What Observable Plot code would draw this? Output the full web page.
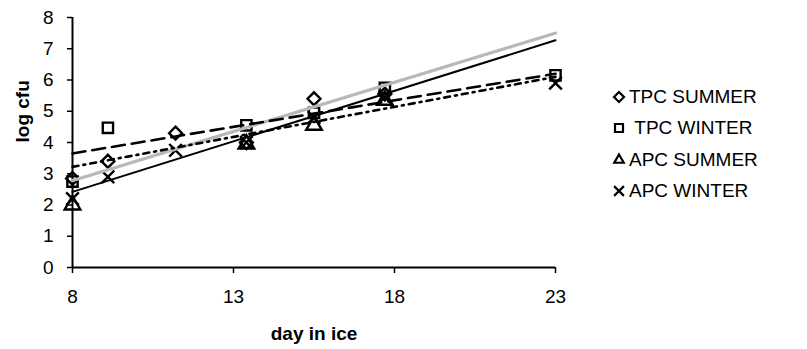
<!DOCTYPE html>
<html>
<head>
<meta charset="utf-8">
<script src="https://cdn.jsdelivr.net/npm/d3@7"></script>
<script src="https://cdn.jsdelivr.net/npm/@observablehq/plot@0.6"></script>
<style>
  html, body { margin: 0; padding: 0; background: #fff; }
  #wrap { position: relative; width: 807px; height: 349px; font-family: "Liberation Sans", Arial, sans-serif; }
  #legend { position: absolute; left: 613px; top: 81px; font-size: 19px; color: #000; }
  #legend .row { display: flex; align-items: center; height: 31.5px; white-space: nowrap; }
  #legend svg { margin-right: 4px; overflow: visible; }
</style>
</head>
<body>
<div id="wrap"><div id="legend"></div></div>
<script>
// ---- data ----
const days = [8, 9.1, 11.2, 13.4, 15.5, 17.7, 23];
const seriesNames = ["TPC SUMMER", "TPC WINTER", "APC SUMMER", "APC WINTER"];
const tpcSummer = [2.85, 3.4, 4.3, 4.0, 5.4, 5.55, null];
const tpcWinter = [2.75, 4.47, null, 4.55, 4.95, 5.75, 6.15];
const apcSummer = [2.0, null, null, 3.95, 4.55, 5.35, null];
const apcWinter = [2.2, 2.9, 3.75, 4.0, 4.8, 5.45, 5.9];

// trend lines (values at first and last day)
const trendNames = ["solid", "gray", "dashed", "dashdot"];
const trendStartDay = 8;
const trendEndDay = 23;
const trendStart = [2.42, 2.78, 3.65, 3.22];
const trendEnd = [7.27, 7.5, 6.2, 6.1];

const xTicks = [8, 13, 18, 23];
const yTicks = [0, 1, 2, 3, 4, 5, 6, 7, 8];

// ---- build tables ----
const seriesValues = [tpcSummer, tpcWinter, apcSummer, apcWinter];
const points = [];
seriesNames.forEach((name, i) => {
  seriesValues[i].forEach((v, j) => {
    if (v != null) points.push({series: name, day: days[j], value: v});
  });
});
const trendStyles = {
  solid:   {stroke: "#000", strokeWidth: 2},
  gray:    {stroke: "#b8b8b8", strokeWidth: 3.2, strokeDasharray: "2,1"},
  dashed:  {stroke: "#000", strokeWidth: 2.6, strokeDasharray: "13,7"},
  dashdot: {stroke: "#000", strokeWidth: 2.6, strokeDasharray: "6,5,2,5"}
};
const trendMarks = trendNames.map((n, i) =>
  Plot.line([{day: trendStartDay, value: trendStart[i]}, {day: trendEndDay, value: trendEnd[i]}],
    {x: "day", y: "value", ...trendStyles[n]})
);
const symbolRange = ["diamond2", "square", "triangle", "times"];

const font = "'Liberation Sans', Arial, sans-serif";
const chart = Plot.plot({
  width: 807,
  height: 349,
  marginLeft: 72,
  marginRight: 252,
  marginTop: 17,
  marginBottom: 82,
  style: {fontSize: "19px", fontFamily: font, color: "#000", background: "transparent"},
  x: {domain: [8, 23]},
  y: {domain: [0, 8]},
  symbol: {domain: seriesNames, range: symbolRange},
  marks: [
    Plot.axisX({ticks: xTicks, tickSize: 6, tickPadding: 16, label: null, strokeWidth: 1.5, fontSize: 19}),
    Plot.axisY({ticks: yTicks, tickSize: 5, tickPadding: 14, label: null, strokeWidth: 1.5, fontSize: 19}),
    Plot.ruleX([8], {strokeWidth: 2}),
    Plot.ruleY([0], {strokeWidth: 2}),
    Plot.dot(points, {x: "day", y: "value", symbol: "series", stroke: "#000", fill: "none", strokeWidth: 2.4, r: 5.8}),
    ...trendMarks,
    Plot.text(["day in ice"], {frameAnchor: "bottom", lineAnchor: "middle", dy: 66, fontWeight: "bold", fontSize: 19}),
    Plot.text(["log cfu"], {frameAnchor: "left", rotate: -90, dx: -50, fontWeight: "bold", fontSize: 19})
  ]
});
document.getElementById("wrap").prepend(chart);

// ---- legend ----
const legend = d3.select("#legend");
const symMap = {diamond2: d3.symbolDiamond2, square: d3.symbolSquare, triangle: d3.symbolTriangle2 || d3.symbolTriangle, times: d3.symbolTimes};
seriesNames.forEach((name, i) => {
  const row = legend.append("div").attr("class", "row");
  const svg = row.append("svg").attr("width", 12).attr("height", 12);
  svg.append("path")
    .attr("transform", "translate(6,6)")
    .attr("d", d3.symbol(symMap[symbolRange[i]], 64)())
    .attr("fill", "none").attr("stroke", "#000").attr("stroke-width", 2.2);
  row.append("span").text((i === 1 ? "\u00a0" : "") + name);
});
</script>
</body>
</html>
